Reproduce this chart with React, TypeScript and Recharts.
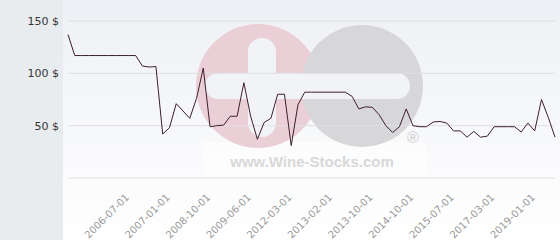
import { LineChart, Line, XAxis, YAxis, CartesianGrid } from 'recharts';

// price per point, left to right
const prices = [
  137, 117, 117, 117, 117, 117, 117, 117, 117, 117, 117, 107, 106, 106.5,
  42, 48, 71, 64, 57, 76, 105, 49, 50, 50.5, 59, 59, 91, 59, 37, 53, 57, 80, 80, 31, 70,
  82, 82, 82, 82, 82, 82, 82,
  78, 66, 68, 67.5, 60.5, 50, 43.5, 49, 66, 50, 49, 49, 53.5, 54, 52.5, 45, 45, 39, 44.5,
  39, 40, 49, 49, 49, 49, 44, 52.5, 45, 75, 58, 39,
];

const tickIndexes = [9, 15, 21, 27, 33, 39, 45, 51, 57, 63, 69];
const tickLabels = [
  '2006-07-01', '2007-01-01', '2008-10-01', '2009-06-01', '2012-03-01', '2013-02-01',
  '2013-10-01', '2014-10-01', '2015-07-01', '2017-03-01', '2019-01-01',
];
const yTicks = [0, 50, 100, 150];

const data = prices.map((price, i) => ({ i, price }));

function DateTick({ x, y, payload }: any) {
  const label = tickLabels[tickIndexes.indexOf(payload.value)];
  const ax = x + 1;
  const ay = y + 20;
  return (
    <text
      x={ax}
      y={ay}
      transform={`rotate(-45 ${ax} ${ay})`}
      textAnchor="end"
      fontSize={10}
      fontFamily="DejaVu Sans"
      fill="#999999"
    >
      {label}
    </text>
  );
}

function PriceTick({ x, y, payload }: any) {
  if (payload.value === 0) return null;
  return (
    <text x={x} y={y + 4} textAnchor="end" fontSize={11} fontFamily="DejaVu Sans" fill="#333">
      {`${payload.value} $`}
    </text>
  );
}

function Backdrop() {
  return (
    <svg width={560} height={240} style={{ position: 'absolute', left: 0, top: 0 }}>
      <defs>
        <linearGradient id="plotBg" x1="0" y1="0" x2="0" y2="1">
          <stop offset="0%" stopColor="#eef0f5" />
          <stop offset="100%" stopColor="#ffffff" />
        </linearGradient>
      </defs>
      <rect x={0} y={0} width={63} height={240} fill="#e8ecef" />
      <rect x={63} y={0} width={497} height={240} fill="url(#plotBg)" />
      <rect x={203} y={142} width={224} height={34} fill="#ffffff" opacity={0.5} />
      <circle cx={258} cy={86} r={62} fill="#eacfd7" />
      <circle cx={362} cy={86} r={61} fill="#d7d7d9" />
      <rect x={248} y={38} width={28} height={99} rx={14} fill="#f2f3f7" />
      <rect x={205} y={73} width={205} height={26} rx={13} fill="#f2f3f7" />
      <text x={312} y={167} textAnchor="middle" fontSize={15} fontWeight="bold" fontFamily="Liberation Sans" fill="#d8d8d8">
        www.Wine-Stocks.com
      </text>
      <text x={413} y={143} textAnchor="middle" fontSize={16} fontFamily="Liberation Sans" fill="#d0d0d0">
        ®
      </text>
    </svg>
  );
}

export default function App() {
  return (
    <div style={{ position: 'relative', width: 560, height: 240 }}>
      <style>{'body{margin:0}'}</style>
      <Backdrop />
      <div style={{ position: 'absolute', left: 0, top: 0 }}>
        <LineChart width={560} height={240} data={data} margin={{ top: 21, right: 5, bottom: 0, left: 0 }}>
          <CartesianGrid vertical={false} stroke="#e0e0e0" />
          <XAxis
            dataKey="i"
            ticks={tickIndexes}
            interval={0}
            height={62}
            tickLine={false}
            axisLine={false}
            tickSize={0}
            tickMargin={0}
            tick={<DateTick />}
          />
          <YAxis
            domain={[0, 150]}
            ticks={yTicks}
            width={68}
            tickLine={false}
            axisLine={false}
            tickSize={0}
            tickMargin={9}
            tick={<PriceTick />}
          />
          <Line
            type="linear"
            dataKey="price"
            stroke="#3d1e2c"
            strokeWidth={1}
            dot={false}
            isAnimationActive={false}
          />
        </LineChart>
      </div>
    </div>
  );
}
